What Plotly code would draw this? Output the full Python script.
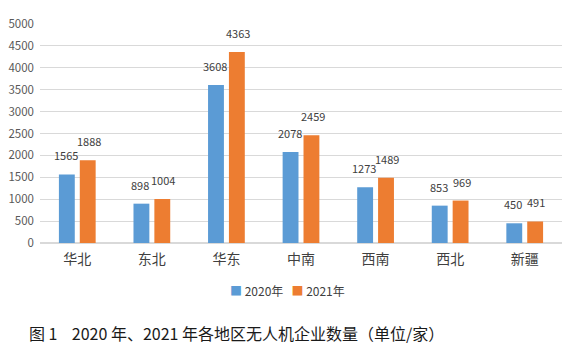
import plotly.graph_objects as go

categories = ["华北", "东北", "华东", "中南", "西南", "西北", "新疆"]
values_2020 = [1565, 898, 3608, 2078, 1273, 853, 450]
values_2021 = [1888, 1004, 4363, 2459, 1489, 969, 491]
series_names = ["2020年", "2021年"]
y_ticks = [0, 500, 1000, 1500, 2000, 2500, 3000, 3500, 4000, 4500, 5000]
colors = ["#5B9BD5", "#ED7D31"]

font_family = "Noto Sans CJK SC, Noto Sans, sans-serif"

fig = go.Figure()
for name, vals, col in zip(series_names, [values_2020, values_2021], colors):
    fig.add_trace(go.Bar(x=categories, y=vals, name=name, marker_color=col,
                         marker_line_width=0))

annotations = []
for shift, vals in zip([-11.5, 11.5], [values_2020, values_2021]):
    for c, v in zip(categories, vals):
        annotations.append(dict(x=c, y=v, text=str(v), showarrow=False,
                                xref="x", yref="y", xshift=shift, yshift=9,
                                yanchor="bottom", xanchor="center",
                                font=dict(size=11, color="#404040", family=font_family)))

# legend drawn as text
legend_text = "&nbsp;&nbsp;&nbsp;".join(
    f"<span style='color:{c}'>■</span> {n}" for n, c in zip(series_names, colors))
annotations.append(dict(x=0.475, y=-0.215, xref="paper", yref="paper",
                        xanchor="center", yanchor="middle", showarrow=False,
                        text=legend_text,
                        font=dict(size=12, color="#404040", family=font_family)))

annotations.append(dict(x=-0.025, y=-0.41, xref="paper", yref="paper",
                        xanchor="left", yanchor="middle", showarrow=False,
                        text="图 1    2020 年、2021 年各地区无人机企业数量（单位/家）",
                        font=dict(size=16, color="#1a1a1a", family=font_family)))

fig.update_layout(
    width=573, height=351,
    margin=dict(l=40, r=11, t=24, b=108),
    paper_bgcolor="white", plot_bgcolor="white",
    barmode="group", bargap=0.44, bargroupgap=0.24,
    showlegend=False,
    annotations=annotations,
    font=dict(family=font_family),
)
fig.update_yaxes(range=[0, 5000], tickvals=y_ticks, showgrid=True, gridcolor="#d9d9d9",
                 gridwidth=1, zeroline=True, zerolinecolor="#d9d9d9", showline=False,
                 ticklabelstandoff=5, automargin=False,
                 tickfont=dict(size=11.5, color="#595959", family=font_family), ticks="")
fig.update_xaxes(showline=False, ticks="", ticklabelstandoff=6, automargin=False,
                 tickfont=dict(size=14, color="#404040", family=font_family))

fig.write_html("out.html")
